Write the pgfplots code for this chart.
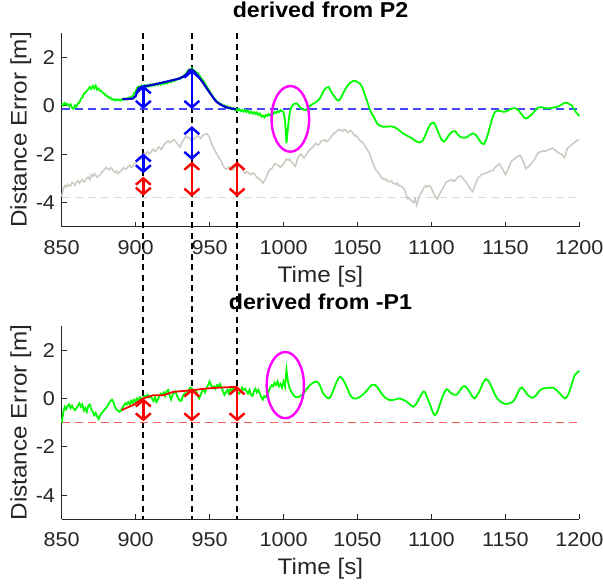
\documentclass[border=0pt]{standalone}
\usepackage{fontspec}
\setmainfont{Liberation Sans}[FakeStretch=1.08]
\usepackage{pgfplots}
\pgfplotsset{compat=1.18}
\usetikzlibrary{arrows.meta}
\definecolor{axgrey}{RGB}{38,38,38}
\definecolor{mgreen}{RGB}{0,255,0}
\definecolor{fitblue}{RGB}{0,0,205}
\definecolor{refgrey}{RGB}{205,200,192}
\definecolor{lgrey}{RGB}{218,218,218}
\definecolor{dblue}{RGB}{70,70,255}
\definecolor{dred}{RGB}{250,95,95}
\definecolor{mag}{RGB}{255,0,255}

\pgfplotsset{
  derr/.style={
    scale only axis, width=517.6pt, height=193.4pt,
    xmin=850, xmax=1200, ymin=-5, ymax=3,
    xtick={850,900,...,1200}, ytick={-4,-2,0,2},
    axis x line*=bottom, axis y line*=left,
    axis line style={axgrey, line width=0.8pt, -},
    tick style={axgrey, line width=0.8pt},
    major tick length=5pt, tick align=inside,
    ticklabel style={font=\fontsize{20}{24}\selectfont, text=axgrey},
    yticklabel style={inner sep=6.5pt},
    /pgf/number format/assume math mode=true,
    /pgf/number format/1000 sep={},
    xticklabel style={anchor=base, yshift=-27.5pt},
    xlabel={Time [s]}, ylabel={Distance Error [m]},
    label style={font=\fontsize{22.5}{27}\selectfont, text=axgrey},
    xlabel style={at={(axis description cs:0.5,-0.256)}, anchor=center},
    ylabel style={at={(axis description cs:-0.0789,0.5)}, anchor=center},
    title style={at={(axis description cs:0.5,1.0517)}, anchor=base, inner sep=0pt,
      font=\bfseries\fontsize{21.5}{25}\selectfont},
    clip=false,
  },
  arr/.style={line width=2.4pt, {Straight Barb[length=6.5pt,width=15pt]}-{Straight Barb[length=6.5pt,width=15pt]}},
  vline/.style={black, line width=1.8pt, dash pattern=on 6pt off 4.5pt},
}

\begin{document}
\begin{tikzpicture}
\path[use as bounding box] (0,0) rectangle (603pt,584pt);

% ---------- top: derived from P2 ----------
\begin{axis}[derr, at={(61.7pt,357.3pt)}, anchor=south west, title={derived from P2}]
% vertical markers across both panels
\addplot[vline] coordinates {(905.2,3) (905.2,-17.1)};
\addplot[vline] coordinates {(938.0,3) (938.0,-17.1)};
\addplot[vline] coordinates {(968.6,3) (968.6,-17.1)};

% reference levels
\addplot[lgrey, line width=1.2pt, dash pattern=on 8pt off 5pt] coordinates {(850,-3.8) (1200,-3.8)};
\addplot[dblue, line width=1.2pt, dash pattern=on 8pt off 5pt] coordinates {(850,-0.13) (1200,-0.13)};

% grey series
\addplot[refgrey, line width=1.5pt] coordinates {
(850,-3.75) (851,-3.45) (852,-3.3) (853,-3.35) (854,-3.25) (855,-3.32) (856,-3.3) (857,-3.18) (858,-3.2) (859,-3.28)
(860,-3.15) (861,-3.1) (862,-3.2) (863,-3.12) (864,-3.05) (865,-3.15) (866,-3.1) (867,-2.98) (868,-2.95) (869,-3.05)
(870,-2.85) (871,-2.92) (872,-2.8) (873,-2.88) (874,-2.95) (875,-2.9) (876,-2.85) (877,-2.75) (878,-2.7) (879,-2.62)
(880,-2.55) (881,-2.6) (882,-2.65) (883,-2.55) (884,-2.6) (885,-2.7) (886,-2.75) (887,-2.7) (888,-2.8) (889,-2.75)
(890,-2.7) (891,-2.62) (892,-2.55) (893,-2.62) (894,-2.6) (895,-2.5) (896,-2.45) (897,-2.55) (898,-2.5) (899,-2.42)
(900,-2.35) (901,-2.25) (902,-2.1) (903,-2.15) (904,-2.2) (905,-2.05) (906,-1.95) (907,-2.0) (908,-1.9) (909,-1.98)
(910,-1.95) (911,-1.85) (912,-1.8) (913,-1.9) (914,-1.85) (915,-1.75) (916,-1.7) (917,-1.8) (918,-1.75) (919,-1.62)
(920,-1.55) (921,-1.5) (922,-1.45) (923,-1.52) (924,-1.5) (925,-1.42) (926,-1.4) (927,-1.48) (928,-1.55) (929,-1.65)
(930,-1.7) (931,-1.55) (932,-1.45) (933,-1.35) (934,-1.25) (935,-1.32) (936,-1.3) (937,-1.4) (938,-1.45) (939,-1.38)
(940,-1.35) (941,-1.28) (942,-1.25) (943,-1.3) (944,-1.35) (945,-1.25) (946,-1.2) (947,-1.18) (948,-1.15) (949,-1.22)
(950,-1.3) (951,-1.5) (952,-1.65) (953,-1.78) (954,-1.9) (955,-2.0) (956,-2.1) (957,-2.22) (958,-2.3) (959,-2.45)
(960,-2.55) (961,-2.62) (962,-2.6) (963,-2.52) (964,-2.55) (965,-2.62) (966,-2.65) (967,-2.55) (968,-2.5) (969,-2.55)
(970,-2.45) (971,-2.52) (972,-2.6) (973,-2.72) (974,-2.8) (975,-2.72) (976,-2.75) (977,-2.82) (978,-2.85) (979,-2.78)
(980,-2.8) (981,-2.88) (982,-2.95) (983,-3.0) (984,-3.05) (985,-3.12) (986,-3.2) (987,-3.1) (988,-3.0) (989,-2.85)
(990,-2.7) (991,-2.62) (992,-2.6) (993,-2.5) (994,-2.4) (995,-2.42) (996,-2.45) (997,-2.5) (998,-2.55) (999,-2.48)
(1000,-2.4) (1001,-2.3) (1002,-2.2) (1003,-2.25) (1004,-2.2) (1005,-2.3) (1006,-2.35) (1007,-2.45) (1008,-2.5) (1009,-2.3)
(1010,-2.1) (1011,-2.05) (1012,-2.0) (1013,-2.1) (1014,-2.15) (1015,-2.05) (1016,-1.95) (1017,-1.85) (1018,-1.8) (1019,-1.75)
(1020,-1.7) (1021,-1.6) (1022,-1.55) (1023,-1.62) (1024,-1.6) (1025,-1.5) (1026,-1.45) (1027,-1.42) (1028,-1.4) (1029,-1.48)
(1030,-1.45) (1031,-1.38) (1032,-1.3) (1033,-1.2) (1034,-1.15) (1035,-1.1) (1036,-1.05) (1037,-1.0) (1038,-0.98) (1039,-1.02)
(1040,-1.05) (1041,-0.98) (1042,-1.0) (1043,-1.08) (1044,-1.1) (1045,-1.02) (1046,-1.05) (1047,-1.15) (1048,-1.25) (1049,-1.22)
(1050,-1.3) (1051,-1.38) (1052,-1.45) (1053,-1.5) (1054,-1.55) (1055,-1.65) (1056,-1.75) (1057,-1.85) (1058,-1.95) (1059,-2.1)
(1060,-2.3) (1061,-2.45) (1062,-2.6) (1063,-2.7) (1064,-2.75) (1065,-2.85) (1066,-2.95) (1067,-3.0) (1068,-3.05) (1069,-3.02)
(1070,-3.1) (1071,-3.12) (1072,-3.15) (1073,-3.1) (1074,-3.2) (1075,-3.22) (1076,-3.25) (1077,-3.2) (1078,-3.3) (1079,-3.32)
(1080,-3.35) (1081,-3.4) (1082,-3.5) (1083,-3.7) (1084,-3.85) (1085,-3.8) (1086,-3.9) (1087,-3.95) (1088,-4.0) (1089,-3.85)
(1090,-4.1) (1091,-3.9) (1092,-3.7) (1093,-3.6) (1094,-3.5) (1095,-3.38) (1096,-3.3) (1097,-3.35) (1098,-3.3) (1099,-3.32)
(1100,-3.4) (1101,-3.55) (1102,-3.7) (1103,-3.8) (1104,-3.85) (1105,-3.7) (1106,-3.6) (1107,-3.5) (1108,-3.4) (1109,-3.25)
(1110,-3.15) (1111,-3.12) (1112,-3.1) (1113,-3.08) (1114,-3.05) (1115,-3.12) (1116,-3.1) (1117,-3.0) (1118,-2.95) (1119,-2.92)
(1120,-2.9) (1121,-2.98) (1122,-3.05) (1123,-3.12) (1124,-3.2) (1125,-3.3) (1126,-3.4) (1127,-3.5) (1128,-3.55) (1129,-3.35)
(1130,-3.2) (1131,-3.05) (1132,-2.95) (1133,-2.9) (1134,-2.85) (1135,-2.82) (1136,-2.8) (1137,-2.78) (1138,-2.75) (1139,-2.72)
(1140,-2.7) (1141,-2.68) (1142,-2.65) (1143,-2.55) (1144,-2.5) (1145,-2.45) (1146,-2.4) (1147,-2.5) (1148,-2.6) (1149,-2.72)
(1150,-2.85) (1151,-2.72) (1152,-2.6) (1153,-2.45) (1154,-2.3) (1155,-2.25) (1156,-2.2) (1157,-2.15) (1158,-2.1) (1159,-2.08)
(1160,-2.05) (1161,-2.15) (1162,-2.3) (1163,-2.45) (1164,-2.6) (1165,-2.55) (1166,-2.5) (1167,-2.42) (1168,-2.35) (1169,-2.28)
(1170,-2.2) (1171,-2.05) (1172,-1.95) (1173,-1.92) (1174,-1.9) (1175,-1.88) (1176,-1.85) (1177,-1.88) (1178,-1.85) (1179,-1.82)
(1180,-1.8) (1181,-1.78) (1182,-1.75) (1183,-1.8) (1184,-1.85) (1185,-1.9) (1186,-1.95) (1187,-1.98) (1188,-2.0) (1189,-2.08)
(1190,-2.15) (1191,-1.95) (1192,-1.75) (1193,-1.7) (1194,-1.65) (1195,-1.6) (1196,-1.55) (1197,-1.5) (1198,-1.45) (1199,-1.42) (1200,-1.4)
};

% green series (noisy part)
\addplot[mgreen, line width=1.8pt] coordinates {
(850,0.10) (851,0.02) (852,0.12) (853,0.05) (854,0.08) (855,-0.02) (856,0.06) (857,-0.08) (858,-0.12) (859,0.02)
(860,-0.04) (861,0.10) (862,0.14) (863,0.30) (864,0.34) (865,0.50) (866,0.55) (867,0.62) (868,0.68) (869,0.78)
(870,0.70) (871,0.82) (872,0.72) (873,0.84) (874,0.66) (875,0.72) (876,0.62) (877,0.60) (878,0.52) (879,0.50)
(880,0.42) (881,0.40) (882,0.33) (883,0.34) (884,0.26) (885,0.28) (886,0.22) (887,0.27) (888,0.23) (889,0.26)
(890,0.22) (891,0.28) (892,0.25) (893,0.30) (894,0.27) (895,0.34) (896,0.31) (897,0.38) (898,0.40) (899,0.52)
(900,0.60) (901,0.74) (902,0.80) (903,0.72) (904,0.84) (905,0.78) (906,0.85) (907,0.76) (908,0.86) (909,0.80)
(910,0.88) (911,0.82) (912,0.90) (913,0.84) (914,0.92) (915,0.86) (916,0.95) (917,0.88) (918,0.96) (919,0.90)
(920,0.98) (921,0.92) (922,0.96) (923,1.02) (924,0.98) (925,1.06) (926,1.02) (927,1.10) (928,1.08) (929,1.14)
(930,1.12) (931,1.20) (932,1.18) (933,1.28) (934,1.32) (935,1.42) (936,1.50) (937,1.46) (938,1.56) (939,1.48)
(940,1.44) (941,1.38) (942,1.36) (943,1.26) (944,1.18) (945,1.08) (946,1.02) (947,0.90) (948,0.82) (949,0.70)
(950,0.62) (951,0.50) (952,0.42) (953,0.30) (954,0.26) (955,0.16) (956,0.14) (957,0.06) (958,0.08) (959,0.00)
(960,0.02) (961,-0.06) (962,-0.02) (963,-0.10) (964,-0.06) (965,-0.14) (966,-0.10) (967,-0.18) (968,-0.12) (969,-0.20)
(970,-0.14) (971,-0.22) (972,-0.16) (973,-0.24) (974,-0.18) (975,-0.26) (976,-0.20) (977,-0.30) (978,-0.24) (979,-0.32)
(980,-0.26) (981,-0.34) (982,-0.28) (983,-0.38) (984,-0.32) (985,-0.44) (986,-0.40) (987,-0.48) (988,-0.38) (989,-0.42)
(990,-0.34) (991,-0.40) (992,-0.30) (993,-0.34) (994,-0.26) (995,-0.30) (996,-0.22) (997,-0.26) (998,-0.18) (999,-0.22)
(1000,-0.25) (1001,-0.6) (1002,-1.55) (1003,-0.9) (1004,-0.35) (1005,-0.1)
};
% green series (smooth part)
\addplot[mgreen, line width=1.8pt, smooth, tension=0.5] coordinates {
(1005,-0.1) (1007,0.08) (1009,0.1) (1011,-0.05) (1013,-0.15) (1015,-0.18) (1017,-0.05) (1019,0.05) (1021,0.12)
(1023,0.2) (1025,0.35) (1027,0.6) (1029,0.75) (1030.5,0.78) (1032,0.6) (1034,0.42) (1036,0.25) (1037.5,0.22)
(1039,0.35) (1041,0.6) (1043,0.8) (1045,0.95) (1047,1.03) (1049,1.02) (1051,0.95) (1053,0.8) (1055,0.45)
(1057,0.1) (1059,-0.25) (1061,-0.45) (1063,-0.7) (1065,-0.82) (1067,-0.86) (1070,-0.86) (1073,-0.85) (1075,-0.88)
(1078,-1.0) (1081,-1.15) (1084,-1.25) (1087,-1.35) (1090,-1.48) (1092,-1.52) (1094,-1.45) (1096,-1.2) (1098,-0.9)
(1100,-0.72) (1101.5,-0.7) (1103,-0.85) (1105,-1.15) (1107,-1.42) (1108.5,-1.48) (1110,-1.38) (1112,-1.2)
(1114,-1.07) (1116,-1.05) (1118,-1.2) (1120,-1.3) (1122,-1.32) (1124,-1.3) (1126,-1.2) (1128,-1.14) (1130,-1.2)
(1132,-1.38) (1134,-1.55) (1135.5,-1.58) (1137,-1.4) (1139,-1.0) (1141,-0.55) (1143,-0.25) (1145,-0.2) (1147,-0.22)
(1149,-0.25) (1151,-0.22) (1153,-0.15) (1155,-0.1) (1157,-0.1) (1159,-0.2) (1161,-0.35) (1163,-0.5) (1164.5,-0.52)
(1166,-0.45) (1168,-0.35) (1170,-0.2) (1172,-0.08) (1174,-0.05) (1176,-0.08) (1178,-0.1) (1180,-0.1) (1182,-0.08)
(1184,-0.05) (1186,-0.02) (1188,0.05) (1190,0.12) (1191.5,0.13) (1193,0.08) (1195,0.02) (1197,-0.2) (1200,-0.42)
};

% fitted trend
\addplot[fitblue, line width=2.2pt, smooth, tension=0.4] coordinates {
(891,0.28) (898,0.30) (900,0.4) (902,0.72) (905,0.8) (910,0.85) (916,0.93) (925,1.06) (930,1.14) (934,1.28)
(936.6,1.49) (938,1.5) (941,1.32) (945,1.0) (950,0.55) (954.5,0.18) (959,0.0) (963.5,-0.1) (968,-0.13)
};

% offset arrows
\addplot[arr, blue] coordinates {(905.2,0.85) (905.2,-0.13)};
\addplot[arr, blue] coordinates {(938.0,1.5) (938.0,-0.13)};
\addplot[arr, blue] coordinates {(905.2,-1.97) (905.2,-2.79)};
\addplot[arr, blue] coordinates {(938.0,-0.84) (938.0,-2.24)};
\addplot[arr, red] coordinates {(905.2,-2.93) (905.2,-3.72)};
\addplot[arr, red] coordinates {(938.0,-2.31) (938.0,-3.76)};
\addplot[arr, red] coordinates {(968.6,-2.31) (968.6,-3.76)};

\draw[mag, line width=2.4pt] (axis cs:1004.6,-0.54) ellipse [x radius=12.7, y radius=1.36];
\end{axis}

% ---------- bottom: derived from -P1 ----------
\begin{axis}[derr, at={(61.7pt,64.7pt)}, anchor=south west, title={derived from -P1}]
\addplot[dred, line width=1.2pt, dash pattern=on 8pt off 5pt] coordinates {(850,-1.0) (1200,-1.0)};

\addplot[mgreen, line width=1.8pt] coordinates {
(850,-1.0) (851,-0.6) (852,-0.35) (853,-0.45) (854,-0.3) (855,-0.25) (856,-0.4) (857,-0.3) (858,-0.42) (859,-0.48)
(860,-0.4) (861,-0.3) (862,-0.2) (863,-0.35) (864,-0.25) (865,-0.5) (866,-0.4) (867,-0.55) (868,-0.3) (869,-0.25)
(870,-0.45) (871,-0.55) (872,-0.7) (873,-0.6) (874,-0.75) (875,-0.85) (876,-0.7) (877,-0.6) (878,-0.55) (879,-0.45)
(880,-0.4) (881,-0.3) (882,-0.2) (883,-0.1) (884,-0.05) (885,-0.15) (886,-0.35) (887,-0.45) (888,-0.5) (889,-0.55)
(890,-0.5) (891,-0.4) (892,-0.3) (893,-0.2) (894,-0.25) (895,-0.15) (896,-0.25) (897,-0.1) (898,-0.2) (899,-0.05)
(900,-0.12) (901,0.0) (902,-0.1) (903,0.05) (904,-0.05) (905,0.0) (906,0.1) (907,0.05) (908,0.15) (909,0.05)
(910,0.1) (911,0.0) (912,-0.1) (913,0.05) (914,-0.15) (915,-0.05) (916,0.1) (917,0.2) (918,0.15) (919,0.25)
(920,0.1) (921,0.3) (922,0.35) (923,0.1) (924,-0.05) (925,0.15) (926,0.25) (927,0.3) (928,0.1) (929,0.0)
(930,-0.1) (931,-0.1) (932,0.1) (933,0.2) (934,0.15) (935,0.3) (936,0.35) (937,0.45) (938,0.4) (939,0.35)
(940,0.25) (941,0.3) (942,0.1) (943,0.0) (944,0.15) (945,0.3) (946,0.35) (947,0.25) (948,0.45) (949,0.55)
(950,0.7) (951,0.55) (952,0.45) (953,0.5) (954,0.4) (955,0.55) (956,0.5) (957,0.6) (958,0.45) (959,0.3)
(960,0.15) (961,0.25) (962,0.35) (963,0.2) (964,0.4) (965,0.3) (966,0.45) (967,0.4) (968,0.35) (969,0.25)
(970,0.2) (971,0.3) (972,0.45) (973,0.35) (974,0.4) (975,0.3) (976,0.2) (977,0.35) (978,0.15) (979,0.1)
(980,0.3) (981,0.4) (982,0.25) (983,0.35) (984,0.2) (985,0.05) (986,-0.05) (987,0.1) (988,0.05) (989,0.15)
(990,0.3) (991,0.45) (992,0.55) (993,0.5) (994,0.65) (995,0.55) (996,0.7) (997,0.5) (998,0.6) (999,0.45)
(1000,0.7) (1001,0.5) (1002,1.18) (1003,0.7) (1004,0.45) (1005,0.3) (1006,0.2) (1007,0.12) (1008,0.06) (1010,0.05)
};
\addplot[mgreen, line width=1.8pt, smooth, tension=0.5] coordinates {
(1010,0.05) (1013.4,0.2) (1016,0.42) (1018,0.56) (1020,0.65) (1022.4,0.70) (1024.5,0.55) (1026.9,0.2) (1030.3,0.0)
(1032,0.1) (1033.7,0.34) (1036,0.7) (1038.2,0.9) (1040.5,0.75) (1042.7,0.48) (1045,0.15) (1047.2,0.0) (1049.5,0.0)
(1051.7,0.07) (1054.5,0.2) (1057.3,0.4) (1059.5,0.55) (1061.8,0.56) (1064,0.42) (1066.3,0.2) (1069,0.02)
(1071.9,-0.07) (1075,-0.05) (1078.7,0.0) (1081,-0.06) (1083.2,-0.13) (1085.5,-0.25) (1087.7,-0.34) (1090,-0.2)
(1092.2,0.05) (1094,0.25) (1095.5,0.27) (1097,0.05) (1099,-0.25) (1100.8,-0.55) (1102.3,-0.69) (1104,-0.55)
(1105.7,-0.25) (1108,0.15) (1110.2,0.38) (1112,0.3) (1113.6,0.2) (1115.5,0.15) (1117,0.15) (1119,0.3) (1121,0.48)
(1122.6,0.51) (1124.3,0.4) (1126,0.25) (1127.7,0.08) (1129.4,0.0) (1131,0.15) (1132.8,0.34) (1135,0.65)
(1136.9,0.8) (1138.8,0.7) (1140.7,0.48) (1143,0.15) (1145.2,-0.05) (1148,-0.18) (1150.8,-0.23) (1153,-0.2)
(1155.3,-0.13) (1157.5,0.1) (1159.3,0.35) (1161,0.45) (1162.7,0.35) (1164.3,0.2) (1166.5,0.08) (1168.8,0.03)
(1171,0.15) (1173.5,0.35) (1175.6,0.41) (1179,0.44) (1182.4,0.44) (1184.5,0.35) (1186.9,0.2) (1188.5,0.08)
(1190.3,0.0) (1192,0.1) (1193.6,0.34) (1195.5,0.7) (1197,0.97) (1200,1.14)
};

% fitted trend
\addplot[red, line width=1.8pt] coordinates {
(890.6,-0.48) (898.4,-0.27) (905,0.0) (911.9,0.13) (918.6,0.13) (925.4,0.27) (938,0.34) (947.9,0.41) (956.9,0.45) (968.6,0.48)
};

\addplot[arr, red] coordinates {(905.2,0.0) (905.2,-0.95)};
\addplot[arr, red] coordinates {(938.0,0.41) (938.0,-0.95)};
\addplot[arr, red] coordinates {(968.6,0.5) (968.6,-0.95)};

\draw[mag, line width=2.4pt] (axis cs:1001.2,0.55) ellipse [x radius=12.6, y radius=1.37];
\end{axis}
\end{tikzpicture}
\end{document}
